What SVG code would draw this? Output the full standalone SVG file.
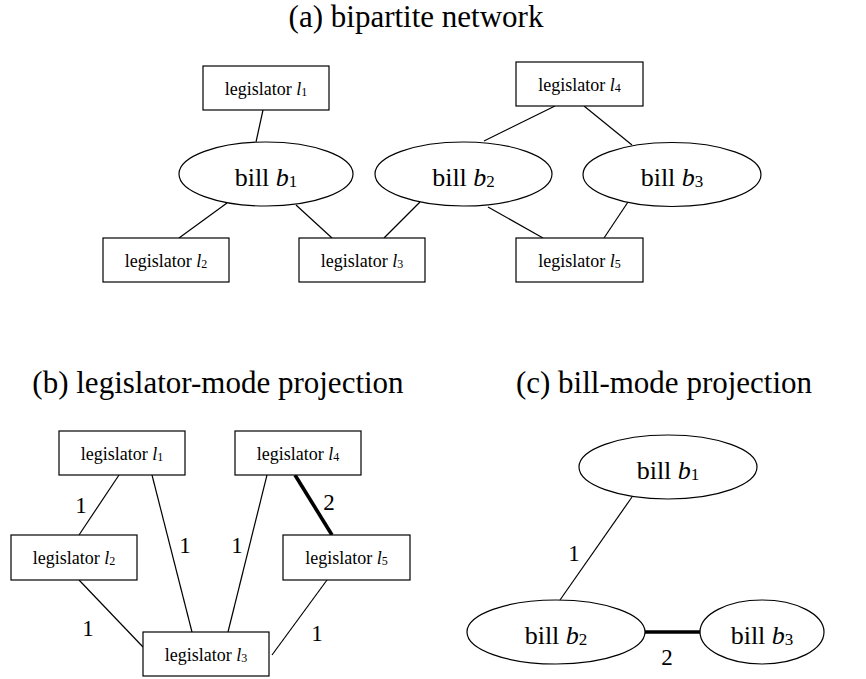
<svg xmlns="http://www.w3.org/2000/svg" width="866" height="679" viewBox="0 0 866 679">
<style>
text { font-family: "Liberation Serif", "Times New Roman", serif; fill: #000; }
.title { font-size: 31px; text-anchor: middle; }
.box rect { fill: #fff; stroke: #000; stroke-width: 1.2; }
.box text { font-size: 18px; text-anchor: middle; }
.bill ellipse { fill: #fff; stroke: #000; stroke-width: 1.2; }
.bill text { font-size: 26px; text-anchor: middle; }
.it { font-style: italic; }
.sb { font-size: 12px; }
.sbb { font-size: 17px; }
.edge line { stroke: #000; stroke-width: 1.2; }
.edge line.thick { stroke-width: 3.6; }
.lbl { font-size: 23px; text-anchor: middle; }
</style>
<rect width="866" height="679" fill="#fff"/>

<!-- Titles -->
<text class="title" x="416" y="27">(a) bipartite network</text>
<text class="title" x="218" y="393">(b) legislator-mode projection</text>
<text class="title" x="664" y="393">(c) bill-mode projection</text>

<!-- (a) connectors -->
<g id="edges-a" class="edge">
  <line x1="263" y1="110" x2="256" y2="142"/>
  <line x1="227" y1="203" x2="179" y2="238"/>
  <line x1="296" y1="205" x2="332" y2="238"/>
  <line x1="420" y1="202" x2="384" y2="238"/>
  <line x1="484" y1="141" x2="555" y2="106"/>
  <line x1="584" y1="106" x2="632" y2="145"/>
  <line x1="488" y1="207" x2="543" y2="238"/>
  <line x1="628" y1="202" x2="604" y2="238"/>
</g>

<!-- (a) nodes -->
<g id="a-l1" class="box"><rect x="203" y="66" width="126" height="44"/><text x="266" y="95">legislator <tspan class="it">l</tspan><tspan class="sb" dy="1">1</tspan></text></g>
<g id="a-l4" class="box"><rect x="516" y="62" width="127" height="44"/><text x="579.5" y="91">legislator <tspan class="it">l</tspan><tspan class="sb" dy="1">4</tspan></text></g>
<g id="a-l2" class="box"><rect x="103" y="238" width="126" height="44"/><text x="166" y="267">legislator <tspan class="it">l</tspan><tspan class="sb" dy="1">2</tspan></text></g>
<g id="a-l3" class="box"><rect x="299" y="238" width="126" height="44"/><text x="362" y="267">legislator <tspan class="it">l</tspan><tspan class="sb" dy="1">3</tspan></text></g>
<g id="a-l5" class="box"><rect x="516" y="238" width="127" height="44"/><text x="579.5" y="267">legislator <tspan class="it">l</tspan><tspan class="sb" dy="1">5</tspan></text></g>
<g id="a-b1" class="bill"><ellipse cx="266" cy="174" rx="87" ry="32"/><text x="266" y="186">bill <tspan class="it">b</tspan><tspan class="sbb" dy="1">1</tspan></text></g>
<g id="a-b2" class="bill"><ellipse cx="463.5" cy="174" rx="88.5" ry="32"/><text x="463.5" y="186">bill <tspan class="it">b</tspan><tspan class="sbb" dy="1">2</tspan></text></g>
<g id="a-b3" class="bill"><ellipse cx="672" cy="174.5" rx="89" ry="32"/><text x="672" y="186">bill <tspan class="it">b</tspan><tspan class="sbb" dy="1">3</tspan></text></g>

<!-- (b) connectors -->
<g id="edges-b" class="edge">
  <line x1="119" y1="475" x2="79" y2="535"/>
  <line x1="152" y1="475" x2="192" y2="632"/>
  <line x1="267" y1="475" x2="228" y2="632"/>
  <line class="thick" x1="295" y1="475" x2="332" y2="535"/>
  <line x1="79" y1="580" x2="143" y2="647"/>
  <line x1="327" y1="580" x2="272" y2="655"/>
</g>
<g id="labels-b">
  <text class="lbl" x="81" y="513">1</text>
  <text class="lbl" x="185" y="553">1</text>
  <text class="lbl" x="237" y="553">1</text>
  <text class="lbl" x="329" y="510">2</text>
  <text class="lbl" x="88" y="636">1</text>
  <text class="lbl" x="317" y="641">1</text>
</g>

<!-- (b) nodes -->
<g id="b-l1" class="box"><rect x="59" y="431" width="126" height="44"/><text x="122" y="460">legislator <tspan class="it">l</tspan><tspan class="sb" dy="1">1</tspan></text></g>
<g id="b-l4" class="box"><rect x="235" y="431" width="126" height="44"/><text x="298" y="460">legislator <tspan class="it">l</tspan><tspan class="sb" dy="1">4</tspan></text></g>
<g id="b-l2" class="box"><rect x="11" y="535" width="126" height="45"/><text x="74" y="564">legislator <tspan class="it">l</tspan><tspan class="sb" dy="1">2</tspan></text></g>
<g id="b-l5" class="box"><rect x="283" y="535" width="127" height="45"/><text x="346.5" y="564">legislator <tspan class="it">l</tspan><tspan class="sb" dy="1">5</tspan></text></g>
<g id="b-l3" class="box"><rect x="143" y="632" width="126" height="44"/><text x="206" y="661">legislator <tspan class="it">l</tspan><tspan class="sb" dy="1">3</tspan></text></g>

<!-- (c) connectors -->
<g id="edges-c" class="edge">
  <line x1="632" y1="497" x2="560" y2="600"/>
  <line class="thick" x1="645" y1="632" x2="700" y2="632"/>
</g>
<g id="labels-c">
  <text class="lbl" x="574" y="561">1</text>
  <text class="lbl" x="667" y="665">2</text>
</g>

<!-- (c) nodes -->
<g id="c-b1" class="bill"><ellipse cx="668" cy="467" rx="89" ry="32"/><text x="668" y="479">bill <tspan class="it">b</tspan><tspan class="sbb" dy="1">1</tspan></text></g>
<g id="c-b2" class="bill"><ellipse cx="556" cy="632" rx="89" ry="32"/><text x="556" y="644">bill <tspan class="it">b</tspan><tspan class="sbb" dy="1">2</tspan></text></g>
<g id="c-b3" class="bill"><ellipse cx="762" cy="632" rx="62" ry="32"/><text x="762" y="644">bill <tspan class="it">b</tspan><tspan class="sbb" dy="1">3</tspan></text></g>
</svg>
